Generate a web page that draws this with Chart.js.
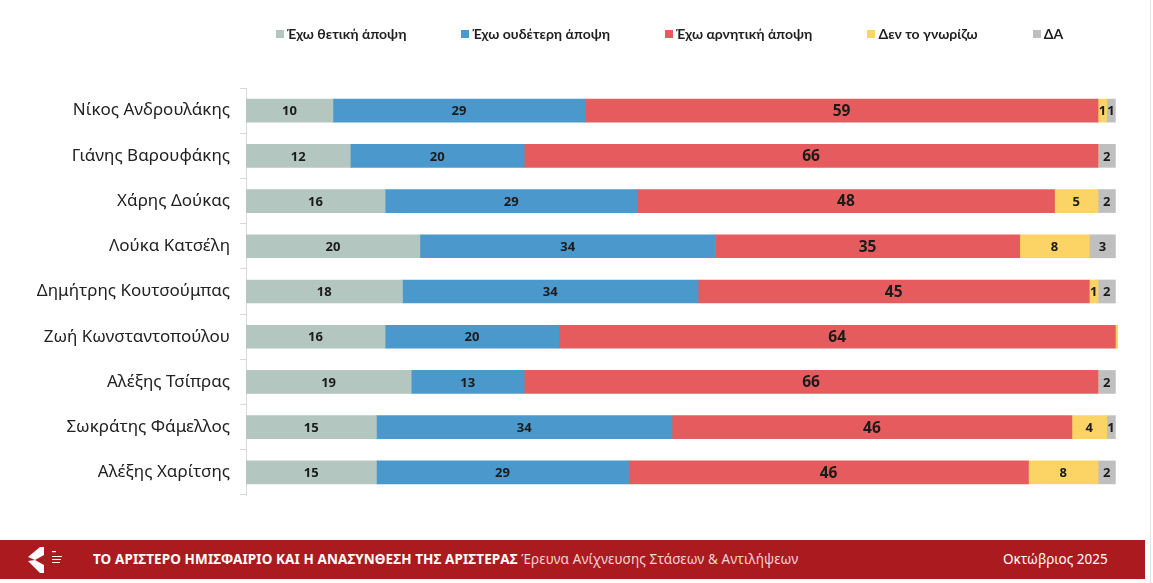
<!DOCTYPE html>
<html>
<head>
<meta charset="utf-8">
<script src="https://cdn.jsdelivr.net/npm/chart.js@4"></script>
<style>
  body { margin: 0; background: #fff; width: 1153px; height: 583px; overflow: hidden; font-family: "Noto Sans", sans-serif; }
  #wrap { position: absolute; left: 0; top: 0; width: 1153px; height: 540px; }
  #legend { position: absolute; left: 276px; top: 25px; white-space: nowrap; font-family: Lato, sans-serif; font-weight: bold; font-size: 14px; color: #1f1f1f; }
  #legend .item { display: inline-block; margin-right: 55px; }
  #legend .box { display: inline-block; width: 8px; height: 8px; margin-right: 3px; vertical-align: 1px; }
  #footer { position: absolute; left: 0; top: 540px; width: 1145px; height: 39px; background: #ab1a1e; color: #fff; }
  #footer .logo { position: absolute; left: 26px; top: 5px; }
  #footer .title { position: absolute; left: 93px; top: 10px; font-size: 13.5px; font-weight: bold; letter-spacing: 0.1px; }
  #footer .title span { font-weight: normal; color: #f3d6d6; }
  #footer .date { position: absolute; left: 1003px; top: 10px; font-size: 13.5px; }
  #edge { position: absolute; left: 1150px; top: 0; width: 1px; height: 583px; background: #e4e4e4; }
</style>
</head>
<body>
<div id="wrap"><canvas id="chart" width="1153" height="540"></canvas></div>
<div id="legend"></div>
<div id="footer">
  <svg class="logo" width="40" height="30" viewBox="0 0 40 30">
    <polygon points="2,12 14,2 18,2 18,10 9,15" fill="#fff"/>
    <polygon points="2,16 9,15 18,20 18,28 14,28" fill="#fff"/>
    <rect x="26" y="6" width="4" height="1.2" fill="#fff"/>
    <rect x="26" y="11" width="10" height="1" fill="#fff"/>
    <rect x="26" y="14" width="9" height="1" fill="#fff"/>
    <rect x="26" y="17" width="8" height="1" fill="#fff"/>
  </svg>
  <div class="title">ΤΟ ΑΡΙΣΤΕΡΟ ΗΜΙΣΦΑΙΡΙΟ ΚΑΙ Η ΑΝΑΣΥΝΘΕΣΗ ΤΗΣ ΑΡΙΣΤΕΡΑΣ <span>Έρευνα Ανίχνευσης Στάσεων &amp; Αντιλήψεων</span></div>
  <div class="date">Οκτώβριος 2025</div>
</div>
<div id="edge"></div>
<script>
const people = ['Νίκος Ανδρουλάκης', 'Γιάνης Βαρουφάκης', 'Χάρης Δούκας', 'Λούκα Κατσέλη',
  'Δημήτρης Κουτσούμπας', 'Ζωή Κωνσταντοπούλου', 'Αλέξης Τσίπρας', 'Σωκράτης Φάμελλος', 'Αλέξης Χαρίτσης'];
const positive = [10, 12, 16, 20, 18, 16, 19, 15, 15];
const neutral  = [29, 20, 29, 34, 34, 20, 13, 34, 29];
const negative = [59, 66, 48, 35, 45, 64, 66, 46, 46];
const dontKnow = [1, 0, 5, 8, 1, 0.3, 0, 4, 8];
const noAnswer = [1, 2, 2, 3, 2, 0, 2, 1, 2];

const seriesNames = ['Έχω θετική άποψη', 'Έχω ουδέτερη άποψη', 'Έχω αρνητική άποψη', 'Δεν το γνωρίζω', 'ΔΑ'];
const seriesColors = ['#b4c6c0', '#4a98cc', '#e65c5e', '#fcd465', '#bfbfbf'];
const seriesValues = [positive, neutral, negative, dontKnow, noAnswer];

// legend above the plot
const legendEl = document.getElementById('legend');
seriesNames.forEach((name, i) => {
  const item = document.createElement('span');
  item.className = 'item';
  item.innerHTML = '<span class="box" style="background:' + seriesColors[i] + '"></span>' + name;
  legendEl.appendChild(item);
});

// value labels in the middle of each segment
const segmentLabels = {
  id: 'segmentLabels',
  afterDatasetsDraw(chart) {
    const ctx = chart.ctx;
    ctx.save();
    ctx.textAlign = 'center';
    ctx.textBaseline = 'middle';
    ctx.fillStyle = '#1b1b1b';
    chart.data.datasets.forEach((ds, i) => {
      const meta = chart.getDatasetMeta(i);
      ctx.font = (i === 2 ? 'bold 15.5px' : 'bold 13px') + ' "Noto Sans", sans-serif';
      meta.data.forEach((bar, j) => {
        const v = ds.data[j];
        if (v < 1) return;
        ctx.fillText(v, (bar.x + bar.base) / 2, bar.y + 1);
      });
    });
    ctx.restore();
  }
};

new Chart(document.getElementById('chart'), {
  type: 'bar',
  data: {
    labels: people,
    datasets: seriesNames.map((name, i) => ({
      label: name,
      data: seriesValues[i],
      backgroundColor: seriesColors[i],
      borderWidth: 0,
      barThickness: 23
    }))
  },
  options: {
    indexAxis: 'y',
    responsive: false,
    animation: false,
    layout: { padding: { left: 0, right: 35, top: 88, bottom: 45 } },
    plugins: {
      tooltip: { enabled: false },
      legend: { display: false }
    },
    scales: {
      x: {
        stacked: true,
        min: 0,
        max: 100.3,
        display: false
      },
      y: {
        stacked: true,
        afterFit(scale) { scale.width = 246; },
        border: { display: true, color: '#d9d9d9', width: 1 },
        grid: { drawOnChartArea: false, drawTicks: true, tickLength: 6, color: '#d9d9d9' },
        ticks: {
          padding: 10,
          color: '#222',
          font: { family: '"Noto Sans", sans-serif', size: 17 }
        }
      }
    }
  },
  plugins: [segmentLabels]
});
</script>
</body>
</html>
